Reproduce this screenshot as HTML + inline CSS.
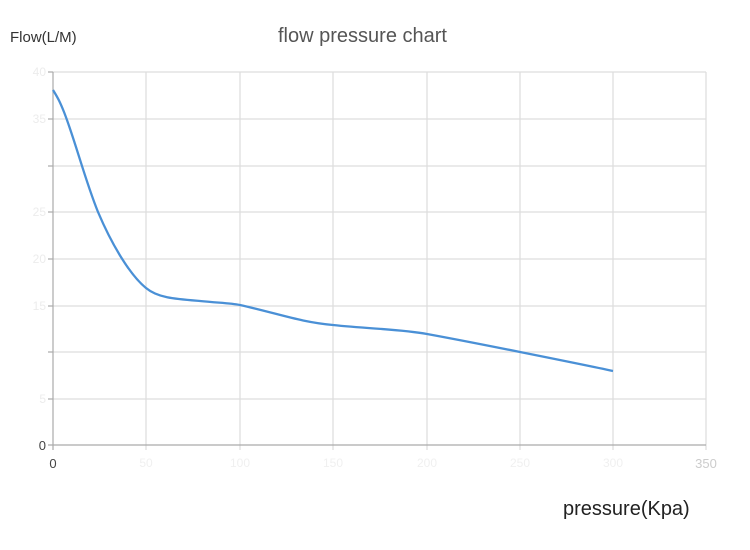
<!DOCTYPE html>
<html><head><style>body{margin:0;background:#fff}svg{display:block}</style></head><body>
<svg width="750" height="550" xmlns="http://www.w3.org/2000/svg" font-family="Liberation Sans, sans-serif">
<rect width="750" height="550" fill="#fff"/>
<text x="10" y="42" font-size="15" fill="#333">Flow(L/M)</text>
<text x="278" y="42" font-size="20" fill="#555">flow pressure chart</text>
<g stroke="#ddd" stroke-width="1.2">
<line x1="53" y1="72" x2="706" y2="72"/><line x1="53" y1="119" x2="706" y2="119"/>
<line x1="53" y1="166" x2="706" y2="166"/><line x1="53" y1="212" x2="706" y2="212"/>
<line x1="53" y1="259" x2="706" y2="259"/><line x1="53" y1="306" x2="706" y2="306"/>
<line x1="53" y1="352" x2="706" y2="352"/><line x1="53" y1="399" x2="706" y2="399"/>
<line x1="146" y1="72" x2="146" y2="450"/><line x1="240" y1="72" x2="240" y2="450"/>
<line x1="333" y1="72" x2="333" y2="450"/><line x1="427" y1="72" x2="427" y2="450"/>
<line x1="520" y1="72" x2="520" y2="450"/><line x1="613" y1="72" x2="613" y2="450"/>
<line x1="706" y1="72" x2="706" y2="450"/>
</g>
<g stroke="#aaa" stroke-width="1.2"><line x1="53" y1="72" x2="53" y2="450"/><line x1="48" y1="445" x2="706" y2="445"/>
<line x1="48" y1="72" x2="53" y2="72"/><line x1="48" y1="119" x2="53" y2="119"/><line x1="48" y1="166" x2="53" y2="166"/><line x1="48" y1="212" x2="53" y2="212"/><line x1="48" y1="259" x2="53" y2="259"/><line x1="48" y1="306" x2="53" y2="306"/><line x1="48" y1="352" x2="53" y2="352"/><line x1="48" y1="399" x2="53" y2="399"/></g>
<g font-size="12" fill="#ececec" text-anchor="end">
<text x="46" y="76">40</text><text x="46" y="123">35</text><text x="46" y="216">25</text><text x="46" y="263">20</text><text x="46" y="310">15</text><text x="46" y="403">5</text></g>
<text x="46" y="450" font-size="13" fill="#444" text-anchor="end">0</text>
<g font-size="12" fill="#f0f0f0" text-anchor="middle">
<text x="146" y="467">50</text><text x="240" y="467">100</text><text x="333" y="467">150</text><text x="427" y="467">200</text><text x="520" y="467">250</text><text x="613" y="467">300</text></g>
<text x="53" y="468" font-size="13" fill="#444" text-anchor="middle">0</text>
<text x="706" y="468" font-size="13" fill="#ccc" text-anchor="middle">350</text>
<path d="M53,90 C58,98 60,102 64,112 C75,140 85,180 98,212 C112,245 130,275 146,288 C158,298 175,299 200,301 C220,303 230,303 240,305 C280,314 300,322 333,325 C370,329 400,329 427,334 C460,340 490,346 520,352 C560,360 590,366 613,371" fill="none" stroke="#4a90d6" stroke-width="2.3"/>
<text x="563" y="515" font-size="20" fill="#222">pressure(Kpa)</text>
</svg>
</body></html>
